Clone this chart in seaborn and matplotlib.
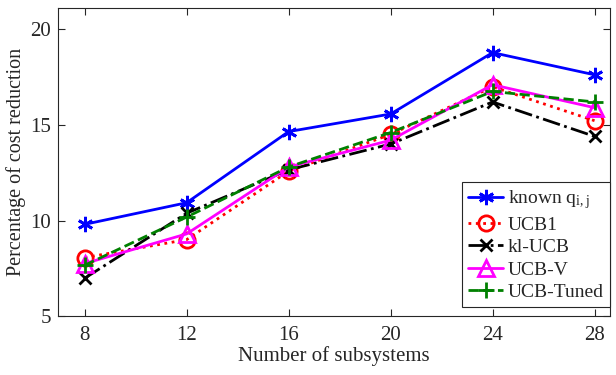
import matplotlib
matplotlib.use("Agg")
import matplotlib.pyplot as plt
import seaborn as sns
import pandas as pd

subsystems = [8, 12, 16, 20, 24, 28]
known_q = [9.8, 10.93, 14.65, 15.57, 18.78, 17.62]
ucb1 = [8.06, 9.0, 12.58, 14.5, 16.99, 15.22]
kl_ucb = [6.98, 10.38, 12.65, 14.0, 16.2, 14.4]
ucb_v = [7.75, 9.3, 12.8, 14.2, 17.1, 15.9]
ucb_tuned = [7.66, 10.18, 12.8, 14.6, 16.75, 16.2]
xticks = [8, 12, 16, 20, 24, 28]
yticks = [5, 10, 15, 20]

sns.set_theme(style="ticks")
plt.rcParams['font.family'] = ['Liberation Serif', 'DejaVu Serif']
plt.rcParams['mathtext.fontset'] = 'custom'
plt.rcParams['mathtext.rm'] = 'Liberation Serif'
plt.rcParams['mathtext.it'] = 'Liberation Serif:italic'

fig = plt.figure(figsize=(6.16, 3.75), dpi=100)
ax = fig.add_axes([0.094, 0.157, 0.896, 0.821])

series = [
    (r'known q$_{\mathrm{i,j}}$', known_q, (0, 0, 1), (6, 2, 0), '-', 11),
    ('UCB1', ucb1, (1, 0, 0), 'o', ':', 11),
    ('kl-UCB', kl_ucb, (0, 0, 0), 'x', '-.', 9),
    ('UCB-V', ucb_v, (1, 0, 1), '^', '-', 11),
    ('UCB-Tuned', ucb_tuned, (0, 0.5, 0), '+', '--', 11),
]
for name, vals, col, mk, ls, ms in series:
    df = pd.DataFrame({'x': subsystems, 'y': vals})
    sns.lineplot(data=df, x='x', y='y', ax=ax, color=col, marker=mk,
                 linestyle=ls, linewidth=2, markersize=ms,
                 markerfacecolor='none', markeredgecolor=col,
                 markeredgewidth=2, label=name)

ax.set_xlim(6.95, 28.6)
ax.set_ylim(5, 21.1)
ax.set_xticks(xticks)
ax.set_yticks(yticks)
ax.tick_params(direction='in', top=True, right=True, labelsize=15,
               length=5, width=0.8, colors='#262626', labelcolor='#262626')
ax.tick_params(axis='x', pad=7)
ax.tick_params(axis='y', pad=5)
for s in ax.spines.values():
    s.set_visible(True)
    s.set_linewidth(0.8)
    s.set_color('#262626')
ax.set_xlabel('Number of subsystems', fontsize=15, labelpad=1, color='#262626')
ax.set_ylabel('Percentage of cost reduction', fontsize=14.5, labelpad=3, color='#262626')

leg = ax.legend(loc='lower right', bbox_to_anchor=(1.0, 0.03), fontsize=14,
                frameon=True, fancybox=False, edgecolor='#262626',
                framealpha=1, borderpad=0.3, labelspacing=0.25,
                handlelength=1.8, handletextpad=0.25, borderaxespad=0.0)
leg.get_frame().set_linewidth(0.8)

fig.savefig('out.png', dpi=100)
